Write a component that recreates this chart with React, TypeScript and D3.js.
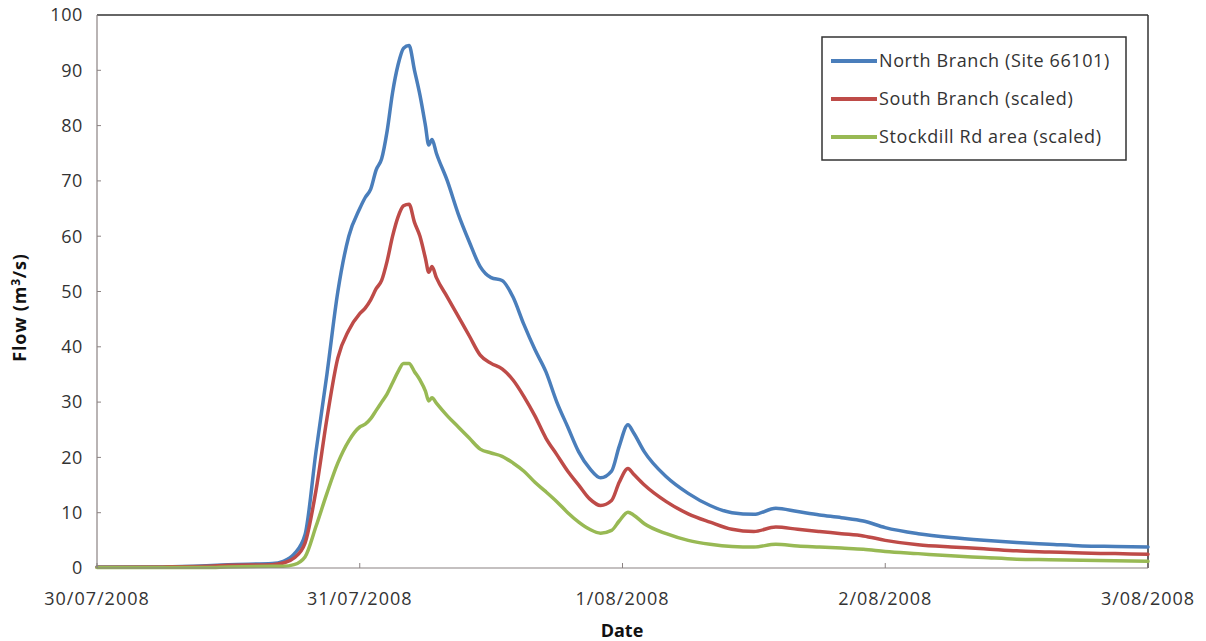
import { useMemo } from 'react'
import * as d3 from 'd3'

// Hydrograph, 30/07/2008 – 3/08/2008. Times are hours after 30/07/2008 00:00,
// values are flow in m3/s.
const HOURS = [
  0, 6, 10, 12, 16, 17, 18, 19, 20, 21, 22, 23, 24, 24.5, 25, 25.5, 26, 26.5, 27, 27.5,
  28, 28.5, 29, 29.5, 30, 30.3, 30.6, 31, 32, 33, 34, 35, 36, 37, 38, 39, 40, 41, 42, 43,
  44, 45, 46, 47, 47.7, 48.5, 49, 50, 52, 54, 56, 58, 60, 62, 64, 66, 68, 70, 72, 75,
  78, 81, 84, 87, 90, 93, 96,
]
const NORTH = [
  0.2, 0.2, 0.4, 0.6, 0.8, 1.2, 2.5, 6, 21, 35, 50, 60, 65, 67, 68.5, 72, 74, 79, 86, 91,
  94, 94.5, 90, 85.5, 80, 76.5, 77.5, 75, 70, 64, 59, 54.5, 52.5, 52, 49, 44, 39.5, 35.5, 30, 25.5,
  21, 18, 16.3, 17.5, 22, 25.9, 24.5, 21, 16.5, 13.5, 11.3, 10, 9.7, 10.8, 10.2, 9.6, 9.1, 8.5, 7.3, 6.2,
  5.5, 5, 4.6, 4.3, 4, 3.9, 3.8,
]
const SOUTH = [
  0.15, 0.2, 0.3, 0.5, 0.6, 0.9, 1.8, 4.5, 14, 27, 38, 43, 46, 47, 48.5, 50.5, 52, 55.5, 60, 63.5,
  65.5, 65.8, 62.5, 60, 56, 53.5, 54.5, 52.5, 49, 45.5, 42, 38.5, 37, 36, 34, 31, 27.5, 23.5, 20.5, 17.5,
  15, 12.5, 11.3, 12.2, 15.5, 18, 17, 15, 12, 9.8, 8.3, 7, 6.6, 7.4, 7, 6.6, 6.2, 5.8, 5, 4.2,
  3.8, 3.5, 3.1, 2.9, 2.7, 2.6, 2.5,
]
const STOCKDILL = [
  0.1, 0.1, 0.1, 0.2, 0.3, 0.3, 0.6, 2, 7.5, 13.5, 19, 23, 25.5, 26, 27, 28.5, 30, 31.5, 33.5, 35.5,
  37, 37, 35.5, 34, 32, 30.2, 30.8, 29.8, 27.5, 25.5, 23.5, 21.5, 20.8, 20.2, 19, 17.5, 15.5, 13.8, 12, 10,
  8.3, 7, 6.3, 6.8, 8.5, 10.1, 9.6, 8, 6.2, 5, 4.3, 3.9, 3.8, 4.3, 4, 3.8, 3.6, 3.4, 3, 2.6,
  2.2, 1.9, 1.6, 1.5, 1.4, 1.3, 1.2,
]

const SERIES = [
  { name: 'North Branch (Site 66101)', values: NORTH, color: '#4a7ebb' },
  { name: 'South Branch (scaled)', values: SOUTH, color: '#be4b48' },
  { name: 'Stockdill Rd area (scaled)', values: STOCKDILL, color: '#98b954' },
]

const START = new Date(2008, 6, 30)
const END = new Date(2008, 7, 3)
const Y_MAX = 100

const W = 1206, H = 641
const M = { top: 15, right: 58, bottom: 73, left: 97 }
const FONT = '"Open Sans", "DejaVu Sans", sans-serif'

export default function App() {
  const x = useMemo(() => d3.scaleTime().domain([START, END]).range([M.left, W - M.right]), [])
  const y = useMemo(() => d3.scaleLinear().domain([0, Y_MAX]).range([H - M.bottom, M.top]), [])
  // timeHour.offset floors fractional steps, so build the dates by hand
  const dates = HOURS.map(h => new Date(+START + h * 3600e3))
  const fmt = d3.timeFormat('%-d/%m/%Y')
  const xTicks = d3.timeDay.range(START, d3.timeDay.offset(END, 1))
  const yTicks = y.ticks(10)

  const line = d3.line<number>()
    .x((_, i) => x(dates[i]))
    .y(d => y(d))
    .curve(d3.curveMonotoneX)

  const x0 = M.left, x1 = W - M.right, y0 = H - M.bottom, y1 = M.top

  return (
    <svg width={W} height={H} style={{ position: 'absolute', left: 0, top: 0, background: '#fff' }}
      fontFamily={FONT}>
      {/* plot frame: dark top/right, grey axes */}
      <line x1={x0} x2={x1} y1={y1} y2={y1} stroke="#333" strokeWidth={1.5} />
      <line x1={x1} x2={x1} y1={y1} y2={y0} stroke="#333" strokeWidth={1.5} />

      {SERIES.map(s => (
        <path key={s.name} d={line(s.values) ?? ''} fill="none" stroke={s.color}
          strokeWidth={3.5} strokeLinejoin="round" strokeLinecap="round" />
      ))}

      <line x1={x0} x2={x1} y1={y0} y2={y0} stroke="#8a8282" strokeWidth={1.2} />
      <line x1={x0} x2={x0} y1={y1} y2={y0} stroke="#8a8282" strokeWidth={1.2} />

      {yTicks.map(t => (
        <g key={t}>
          {t > 0 && t < Y_MAX && <line x1={x0} x2={x0 + 4} y1={y(t)} y2={y(t)} stroke="#8a8282" />}
          <text x={83} y={y(t)} dy="0.35em" textAnchor="end" fontSize={18} fill="#333"
            letterSpacing={0.6}>{t}</text>
        </g>
      ))}

      {xTicks.map(t => (
        <g key={+t}>
          <line x1={x(t)} x2={x(t)} y1={y0} y2={y0 - 5} stroke="#8a8282" />
          <text x={x(t)} y={605} textAnchor="middle" fontSize={18} fill="#333"
            letterSpacing={1}>{fmt(t)}</text>
        </g>
      ))}

      <text x={622} y={637} textAnchor="middle" fontSize={18} fontWeight="bold" fill="#111">Date</text>
      <text transform={`translate(26,${(y0 + y1) / 2 + 16}) rotate(-90)`} textAnchor="middle"
        fontSize={18} fontWeight="bold" fill="#111" letterSpacing={0.8}>
        Flow (m<tspan dy="-6" fontSize={12}>3</tspan><tspan dy="6">/s)</tspan>
      </text>

      {/* legend */}
      <g>
        <rect x={822} y={37} width={304} height={123} fill="#fff" stroke="#333" strokeWidth={1.5} />
        {SERIES.map((s, i) => {
          const ly = 61 + i * 38
          return (
            <g key={s.name}>
              <line x1={831} x2={877} y1={ly} y2={ly} stroke={s.color} strokeWidth={4} />
              <text x={879} y={ly} dy="0.35em" fontSize={18} fill="#333"
                letterSpacing={0.6}>{s.name}</text>
            </g>
          )
        })}
      </g>
    </svg>
  )
}
